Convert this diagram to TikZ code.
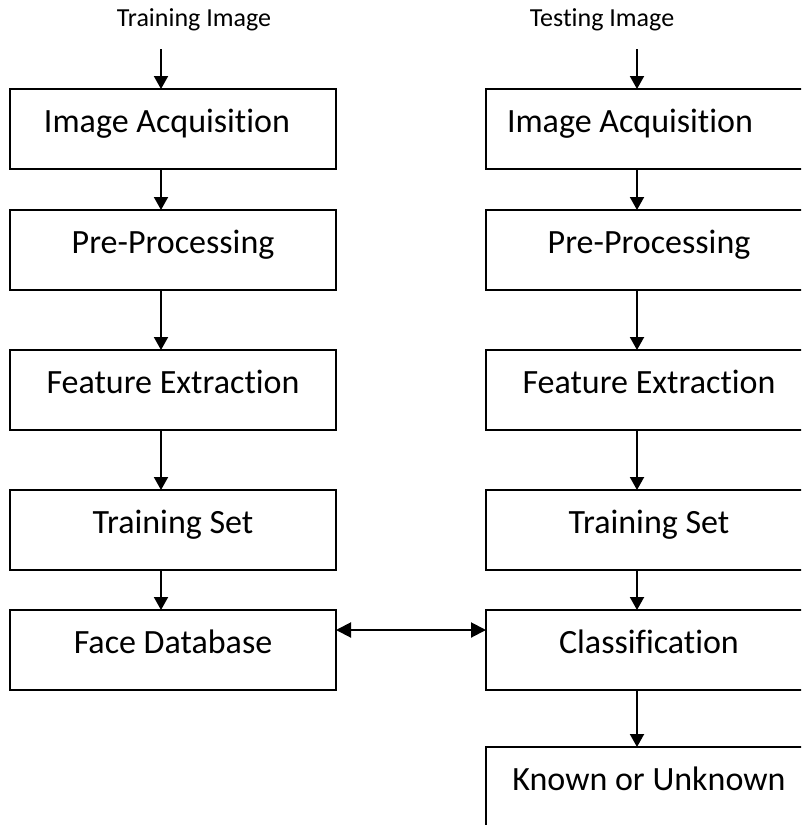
\documentclass[tikz,border=0pt]{standalone}
\usepackage{fontspec}
\setmainfont{Carlito}[Ligatures={NoCommon}]
\usetikzlibrary{arrows.meta,calc}
\begin{document}
\begin{tikzpicture}[x=1pt,y=1pt,
  stage/.style={draw, line width=2pt, minimum width=326pt, minimum height=80pt,
    inner sep=0pt, outer sep=0pt, text height=43pt, text depth=37pt,
    font=\fontsize{34}{41}\selectfont, anchor=north},
  flow/.style={line width=2pt, -{Triangle[length=13pt,width=14pt]}},
  link/.style={line width=2pt, {Triangle[length=15pt,width=15pt]}-{Triangle[length=15pt,width=15pt]}},
  caption/.style={font=\fontsize{26}{31}\selectfont, anchor=base, inner sep=0pt}]

\useasboundingbox (0,0) rectangle (801,-825);
\clip (0,0) rectangle (801,-825);

% training branch
\node[caption] (trainimg) at (194,-26.7) {Training Image};
\coordinate (tstart) at (161,-49);
\node[stage] (l1) at (173,-89)  {Image Acquisition\hspace*{12pt}};
\node[stage] (l2) at (173,-210) {Pre-Processing};
\node[stage] (l3) at (173,-350) {Feature Extraction};
\node[stage] (l4) at (173,-490) {Training Set};
\node[stage] (l5) at (173,-610) {Face Database};

% testing branch
\node[caption] (testimg) at (602,-26.7) {Testing Image};
\coordinate (sstart) at (637,-49);
\node[stage] (r1) at (649,-89)  {Image Acquisition\hspace*{38pt}};
\node[stage] (r2) at (649,-210) {Pre-Processing};
\node[stage] (r3) at (649,-350) {Feature Extraction};
\node[stage] (r4) at (649,-490) {Training Set};
\node[stage] (r5) at (649,-610) {Classification};
\node[stage] (r6) at (649,-747) {Known or Unknown};

% vertical flow
\draw[flow] (tstart) -- ([xshift=-12pt]l1.north);
\draw[flow] ([xshift=-12pt]l1.south) -- ([xshift=-12pt]l2.north);
\draw[flow] ([xshift=-12pt]l2.south) -- ([xshift=-12pt]l3.north);
\draw[flow] ([xshift=-12pt]l3.south) -- ([xshift=-12pt]l4.north);
\draw[flow] ([xshift=-12pt]l4.south) -- ([xshift=-12pt]l5.north);

\draw[flow] (sstart) -- ([xshift=-12pt]r1.north);
\draw[flow] ([xshift=-12pt]r1.south) -- ([xshift=-12pt]r2.north);
\draw[flow] ([xshift=-12pt]r2.south) -- ([xshift=-12pt]r3.north);
\draw[flow] ([xshift=-12pt]r3.south) -- ([xshift=-12pt]r4.north);
\draw[flow] ([xshift=-12pt]r4.south) -- ([xshift=-12pt]r5.north);
\draw[flow] ([xshift=-12pt]r5.south) -- ([xshift=-12pt]r6.north);

% database lookup
\draw[link] ($(l5.north east)+(0,-20)$) -- ($(r5.north west)+(0,-20)$);
\end{tikzpicture}
\end{document}
